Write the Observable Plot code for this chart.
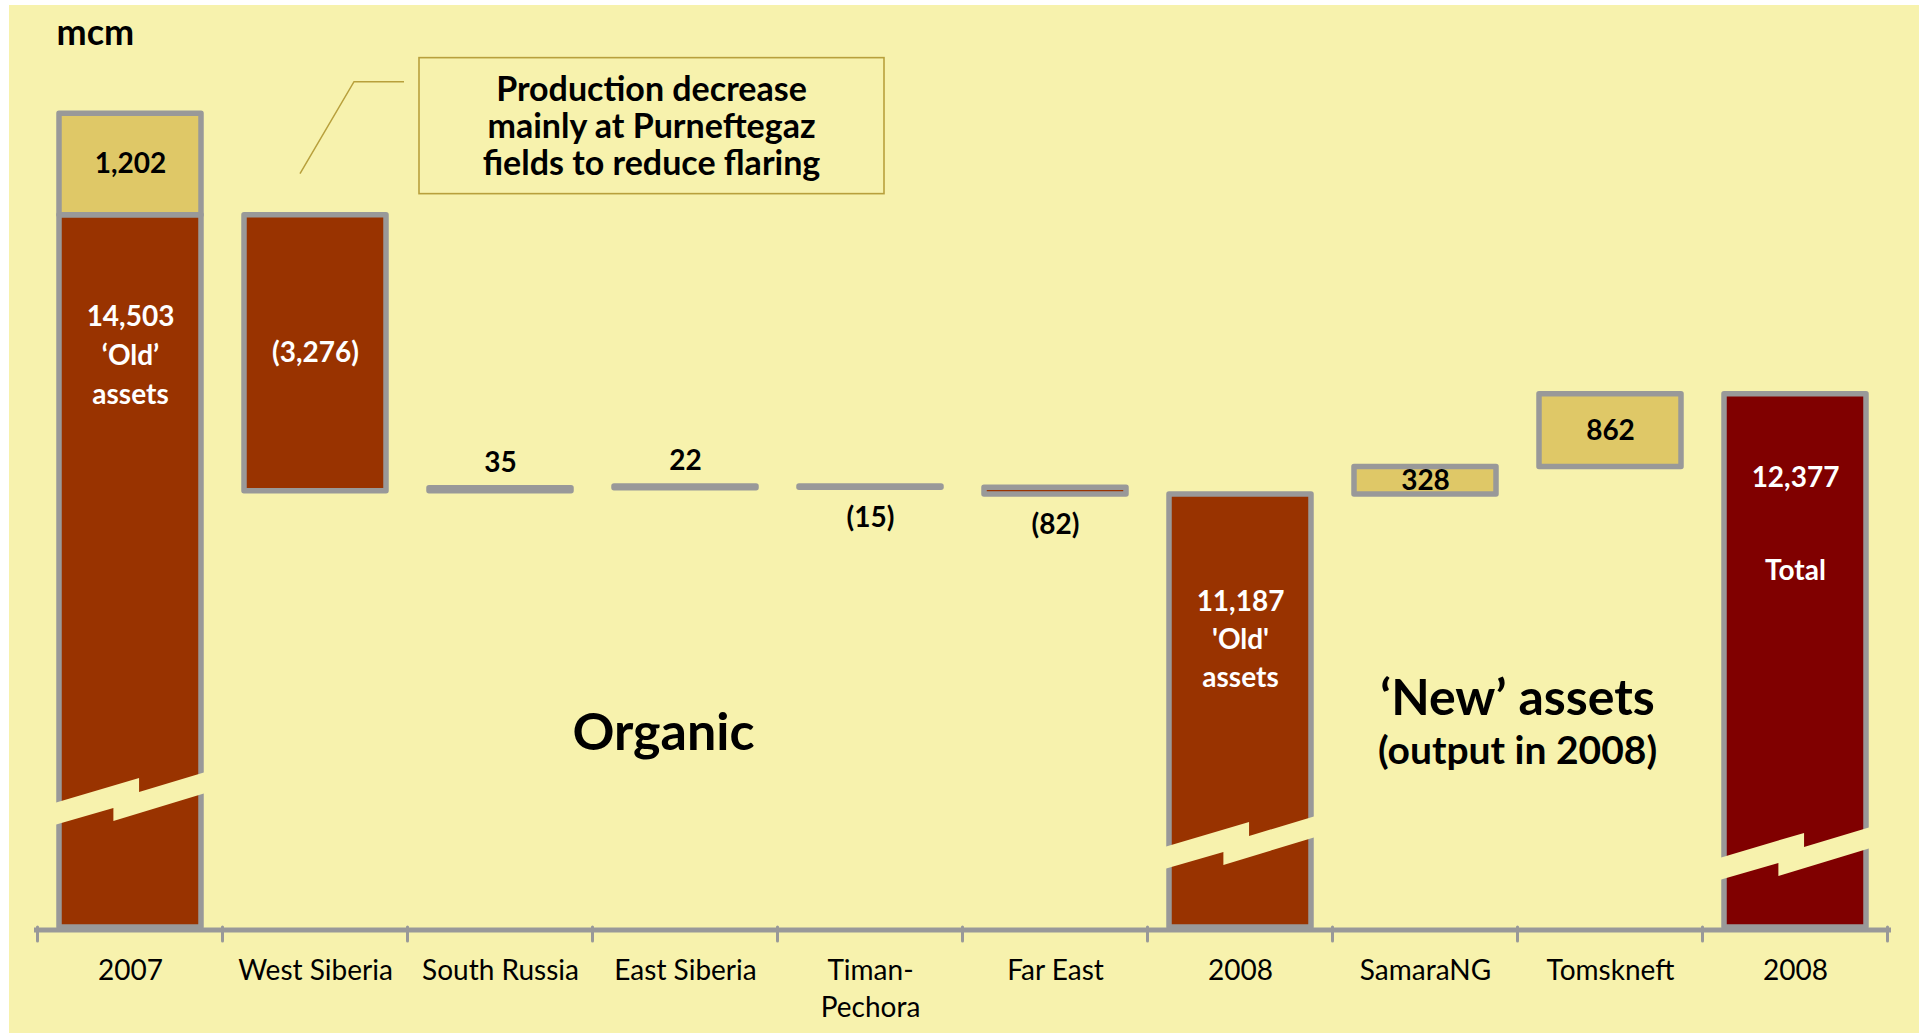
<!DOCTYPE html>
<html>
<head>
<meta charset="utf-8">
<script src="https://cdn.jsdelivr.net/npm/d3@7"></script>
<script src="https://cdn.jsdelivr.net/npm/@observablehq/plot@0.6"></script>
<style>
  html, body { margin: 0; padding: 0; background: #ffffff; }
  #bg { position: absolute; left: 9px; top: 5px; width: 1910px; height: 1028px; background: #F7F2AD; }
  #chart { position: absolute; left: 0; top: 0; }
</style>
</head>
<body>
<div id="bg"></div>
<div id="chart"></div>
<script>
// ---------------- data ----------------
const ids = ["2007", "West Siberia", "South Russia", "East Siberia", "Timan-Pechora", "Far East", "2008 old", "SamaraNG", "Tomskneft", "2008 total"];
const tickLabels = ["2007", "West Siberia", "South Russia", "East Siberia", "Timan-\nPechora", "Far East", "2008", "SamaraNG", "Tomskneft", "2008"];
const old2007 = 14503;
const extra2007 = 1202;
const organicRegions = ["West Siberia", "South Russia", "East Siberia", "Timan-Pechora", "Far East"];
const organicChanges = [-3276, 35, 22, -15, -82];
const old2008 = 11187;
const newAssetNames = ["SamaraNG", "Tomskneft"];
const newAssetChanges = [328, 862];
const total2008 = 12377;
const unitLabel = "mcm";
const calloutText = "Production decrease\nmainly at Purneftegaz\nfields to reduce flaring";

// ---------------- build waterfall table ----------------
const fmt = d3.format(",");
const fmtDelta = v => v < 0 ? `(${fmt(-v)})` : fmt(v);
const bars = [];
bars.push({id: "2007", y1: 0, y2: old2007, kind: "old"});
bars.push({id: "2007", y1: old2007, y2: old2007 + extra2007, kind: "extra", label: fmt(extra2007), pos: "mid", color: "#000"});
let level = old2007;
organicRegions.forEach((r, i) => {
  const c = organicChanges[i];
  const big = Math.abs(c) > 500;
  bars.push({id: r, y1: level, y2: level + c, kind: c < 0 ? "old" : "extra", label: fmtDelta(c),
             pos: big ? "mid" : (c < 0 ? "below" : "above"), color: big ? "#fff" : "#000"});
  level += c;
});
bars.push({id: "2008 old", y1: 0, y2: old2008, kind: "old"});
level = old2008;
newAssetNames.forEach((r, i) => {
  const c = newAssetChanges[i];
  bars.push({id: r, y1: level, y2: level + c, kind: "extra", label: fmtDelta(c), pos: "mid", color: "#000"});
  level += c;
});
bars.push({id: "2008 total", y1: 0, y2: total2008, kind: "total"});

const colors = {old: "#993300", extra: "#DFC867", total: "#800000"};

const labelRows = bars.filter(d => d.label).map(d => {
  const lo = Math.min(d.y1, d.y2), hi = Math.max(d.y1, d.y2);
  return {id: d.id, text: d.label, color: d.color, pos: d.pos,
          y: d.pos === "mid" ? (lo + hi) / 2 : d.pos === "above" ? hi : lo};
});
const midLabels = labelRows.filter(d => d.pos === "mid");
const aboveLabels = labelRows.filter(d => d.pos === "above");
const belowLabels = labelRows.filter(d => d.pos === "below");

const yFloor = 6050, yCeil = 17050;
const T = {fontSize: 28, fontWeight: "bold", lineAnchor: "middle"};

const plot = Plot.plot({
  width: 1919,
  height: 1033,
  marginLeft: 34,
  marginRight: 28,
  marginTop: 0,
  marginBottom: 106,
  style: {fontFamily: "Lato, sans-serif", background: "transparent", overflow: "visible", color: "#000"},
  x: {domain: ids, paddingInner: 0.23, paddingOuter: 0.115, label: null},
  y: {domain: [yFloor, yCeil], clamp: true, axis: null},
  marks: [
    Plot.barY(bars, {x: "id", y1: "y1", y2: "y2", fill: d => colors[d.kind], stroke: "#999999", strokeWidth: 5.5, strokeLinejoin: "round"}),
    Plot.ruleY([yFloor], {stroke: "#999999", strokeWidth: 5, dy: 2.5}),
    Plot.axisX({tickSize: 0, tickPadding: 26, fontSize: 28, lineHeight: 1.32, fill: "#000", label: null,
                tickFormat: d => tickLabels[ids.indexOf(d)]}),
    Plot.text(midLabels, {x: "id", y: "y", text: "text", fill: "color", ...T}),
    Plot.text(aboveLabels, {x: "id", y: "y", text: "text", fill: "color", dy: -25, ...T}),
    Plot.text(belowLabels, {x: "id", y: "y", text: "text", fill: "color", dy: 30, ...T}),
    Plot.text([old2007], {x: () => "2007", y: d => d, text: d => `${fmt(d)}\n‘Old’\nassets`, fill: "#fff",
                          fontSize: 28, fontWeight: "bold", lineAnchor: "top", lineHeight: 1.4, dy: 83}),
    Plot.text([old2008], {x: () => "2008 old", y: d => d, text: d => `${fmt(d)}\n'Old'\nassets`, fill: "#fff",
                          fontSize: 28, fontWeight: "bold", lineAnchor: "top", lineHeight: 1.35, dy: 90}),
    Plot.text([total2008], {x: () => "2008 total", y: d => d, text: d => fmt(d), fill: "#fff", dy: 84, ...T}),
    Plot.text([total2008], {x: () => "2008 total", y: d => d, text: () => "Total", fill: "#fff", dy: 177, ...T}),
    Plot.text([unitLabel], {frameAnchor: "top-left", textAnchor: "start", dx: 22, dy: 33, fontSize: 36, fontWeight: "bold", lineAnchor: "middle", fill: "#000"}),
    Plot.text(["Organic"], {x: () => "East Siberia", frameAnchor: "bottom", dx: -22, dy: -194, fontSize: 52, fontWeight: "bold", lineAnchor: "middle", fill: "#000"}),
    Plot.text(["‘New’ assets"], {x: () => "SamaraNG", frameAnchor: "bottom", dx: 92, dy: -229, fontSize: 50, fontWeight: "bold", lineAnchor: "middle", fill: "#000"}),
    Plot.text(["(output in 2008)"], {x: () => "SamaraNG", frameAnchor: "bottom", dx: 92, dy: -176, fontSize: 39, fontWeight: "bold", lineAnchor: "middle", fill: "#000"})
  ]
});

document.getElementById("chart").appendChild(plot);

// ---------------- decorations from the plot's scales ----------------
const svg = d3.select(plot);
const xs = plot.scale("x"), ys = plot.scale("y");
const bw = xs.bandwidth, step = xs.step, gap = (step - bw) / 2;
const baseY = ys.apply(yFloor);

// axis ticks at category boundaries
const bounds = ids.map(id => xs.apply(id) - gap).concat([xs.apply(ids[ids.length - 1]) + bw + gap]);
svg.append("g").selectAll("line").data(bounds).join("line")
  .attr("x1", d => d).attr("x2", d => d)
  .attr("y1", baseY).attr("y2", baseY + 14)
  .attr("stroke", "#999999").attr("stroke-width", 3).attr("stroke-linecap", "round");

// axis-break zigzags across truncated bars
const breaks = [{id: "2007", at: 7520}, {id: "2008 old", at: 7000}, {id: "2008 total", at: 6870}];
svg.append("g").selectAll("polygon").data(breaks).join("polygon")
  .attr("fill", "#F7F2AD")
  .attr("points", d => {
    const L = xs.apply(d.id) - 4.5, W = bw + 9, y0 = ys.apply(d.at);
    const p = [[0, 0], [0.56, -25], [0.56, -11], [1, -31], [1, -10], [0.39, 18], [0.39, 5], [0, 22]];
    return p.map(([fx, oy]) => `${L + fx * W},${y0 + oy}`).join(" ");
  });

// callout for West Siberia
const cx = xs.apply("West Siberia") + bw / 2;
const ty = ys.apply(old2007);
const co = svg.append("g");
co.append("polyline")
  .attr("points", `${cx - 15},${ty - 41} ${cx + 39},${ty - 133} ${cx + 89},${ty - 133}`)
  .attr("fill", "none").attr("stroke", "#B8A03C").attr("stroke-width", 1.5);
co.append("rect")
  .attr("x", cx + 104).attr("y", ty - 157).attr("width", 465).attr("height", 136)
  .attr("fill", "none").attr("stroke", "#B8A03C").attr("stroke-width", 1.6);
const lines = calloutText.split("\n");
co.append("text")
  .attr("text-anchor", "middle").attr("font-family", "Lato, sans-serif")
  .attr("font-weight", "bold").attr("font-size", 34).attr("fill", "#000")
  .selectAll("tspan").data(lines).join("tspan")
  .attr("x", cx + 336.5).attr("y", (d, i) => ty - 114 + i * 37)
  .text(d => d);
</script>
</body>
</html>
